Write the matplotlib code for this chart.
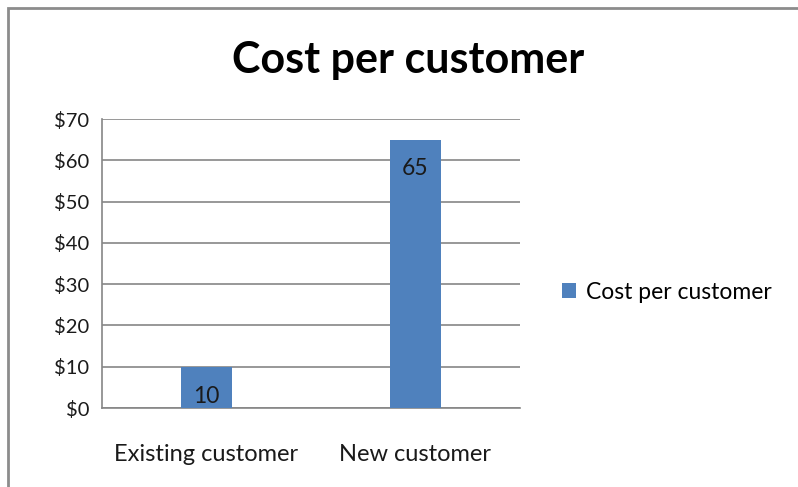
from matplotlib import pyplot as plt
from matplotlib.patches import Rectangle
from matplotlib.ticker import FuncFormatter, MultipleLocator

# data
categories = ['Existing customer', 'New customer']
costs = [10, 65]
series_name = 'Cost per customer'

bar_color = '#4f81bd'
grid_color = '#868686'
text_color = '#1a1a1a'

plt.rcParams['font.family'] = ['Lato', 'DejaVu Sans']

fig = plt.figure(figsize=(7.98, 4.87), dpi=100)
ax = fig.add_axes([0.1278, 0.1622, 0.5238, 0.5934])

x = range(len(categories))
bars = ax.bar(x, costs, width=0.245, color=bar_color, label=series_name,
              zorder=3)

ax.set_xlim(-0.5, len(categories) - 0.5)
ax.set_ylim(0, 70)
ax.yaxis.set_major_locator(MultipleLocator(10))
ax.yaxis.set_major_formatter(FuncFormatter(lambda v, p: '$%d' % v))
ax.set_xticks(list(x))
ax.set_xticklabels(categories)

ax.grid(axis='y', color=grid_color, linewidth=1.2, zorder=0)
for side in ['top', 'right']:
    ax.spines[side].set_visible(False)
for side in ['left', 'bottom']:
    ax.spines[side].set_color(grid_color)
    ax.spines[side].set_linewidth(1.2)

ax.tick_params(axis='y', length=0, pad=9, labelsize=14.5, labelcolor=text_color)
ax.tick_params(axis='x', length=0, pad=26, labelsize=17, labelcolor=text_color)

# value labels: small bar gets its label at the base, tall one at the top
for b, v in zip(bars, costs):
    cx = b.get_x() + b.get_width() / 2
    if v < 20:
        ax.annotate(str(v), (cx, 0), xytext=(0, 1), textcoords='offset points',
                    ha='center', va='bottom', fontsize=16.5, color=text_color,
                    zorder=4)
    else:
        ax.annotate(str(v), (cx, v), xytext=(0, -13),
                    textcoords='offset points', ha='center', va='top',
                    fontsize=16.5, color=text_color, zorder=4)

fig.text(0.511, 0.877, 'Cost per customer', ha='center', va='center',
         fontsize=31, fontweight='bold', color='black')

fig.legend(handles=[bars], labels=[series_name], loc='center left',
           bbox_to_anchor=(0.678, 0.40), frameon=False, fontsize=16.5,
           handlelength=0.62, handleheight=0.62, handletextpad=0.45)

# chart area frame
fig.patches.append(Rectangle((8 / 798, -0.2), 1.5, 1.2 - 8 / 487,
                             transform=fig.transFigure, fill=False,
                             edgecolor='#8c8c8c', linewidth=2))

fig.savefig('out.png', dpi=100)
